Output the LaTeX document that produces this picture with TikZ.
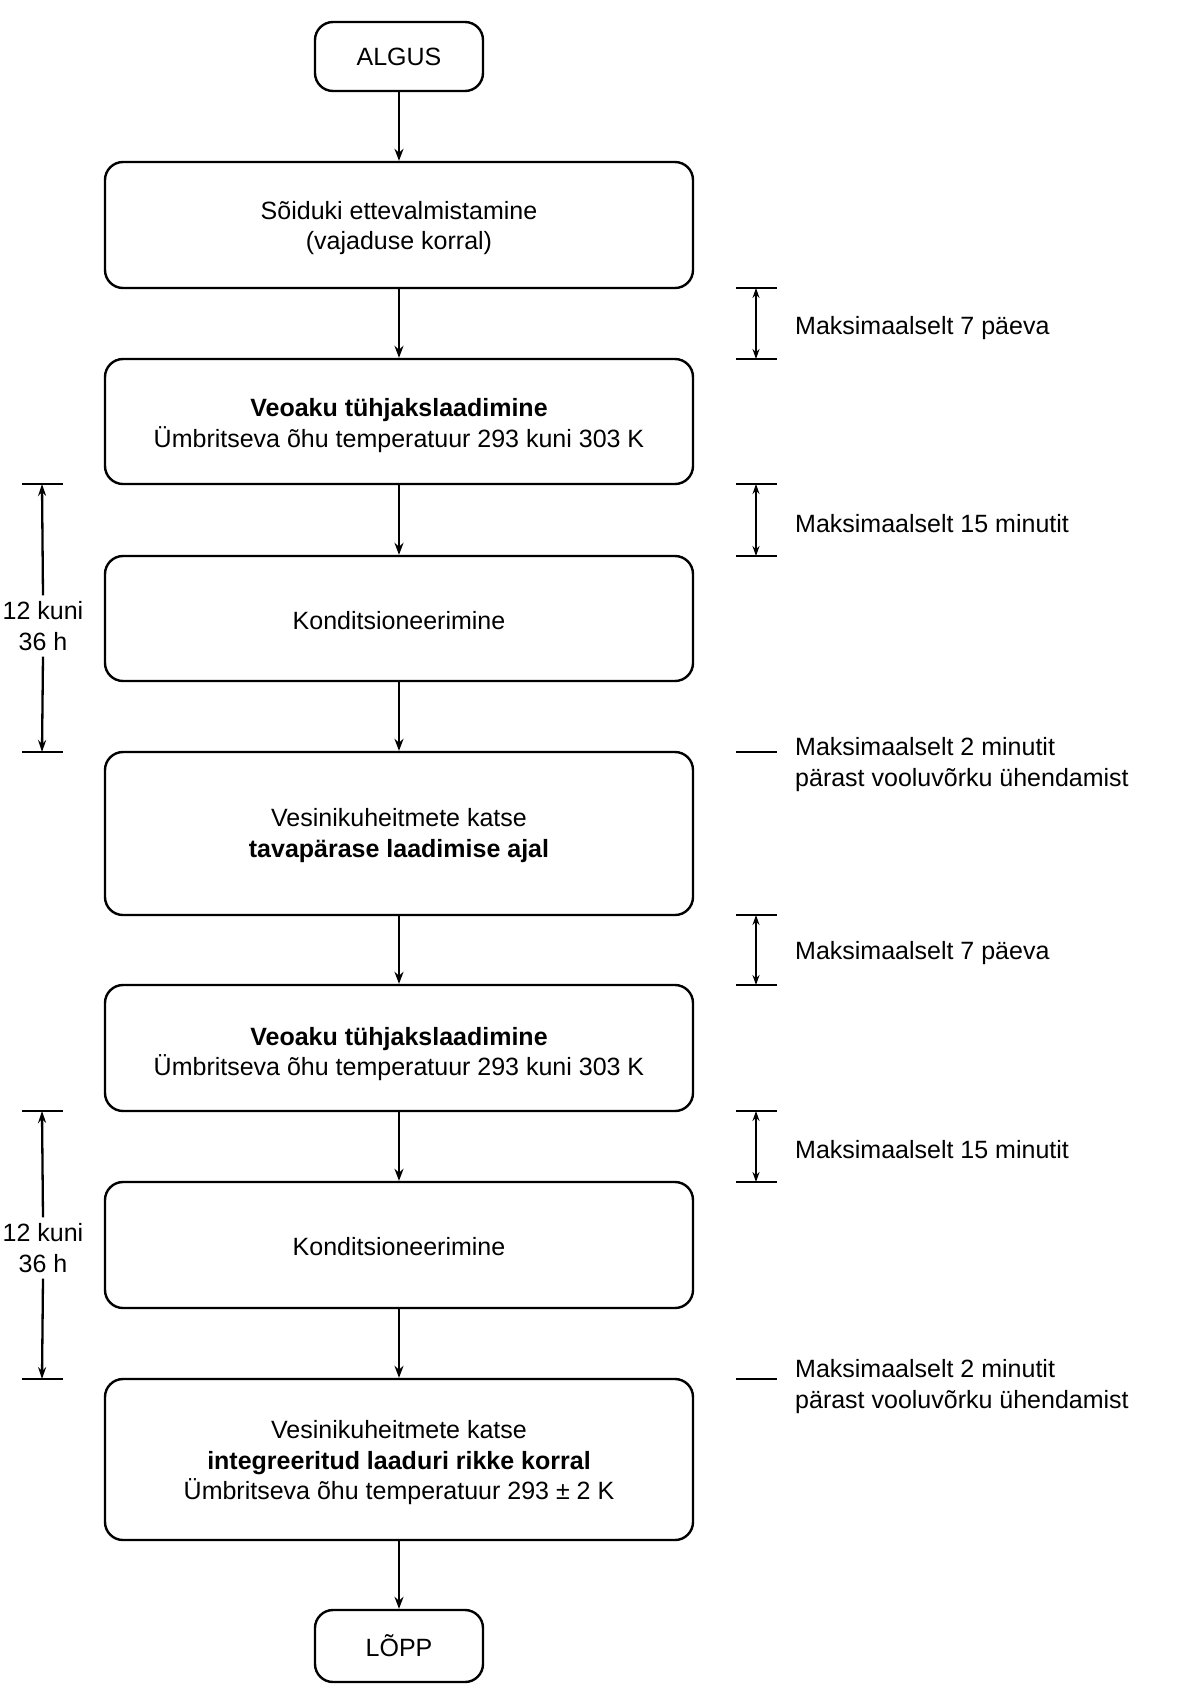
\documentclass[tikz,border=0pt]{standalone}
\usepackage{fontspec}
\setmainfont{Liberation Sans}
\usetikzlibrary{arrows.meta}
\newcommand\boxtext[2][-3.5pt]{\raisebox{#1}[\height][\depth]{\begin{tabular}{@{}c@{}}#2\end{tabular}}}
\begin{document}
\begin{tikzpicture}[x=1pt,y=-1pt,
  txt/.style={font=\fontsize{25}{30.5}\selectfont},
  box/.style={txt, draw, line width=2.4pt, rounded corners=18pt, minimum width=588pt, inner sep=0pt, align=center},
  endbox/.style={box, minimum width=168pt},
  lbl/.style={txt, inner sep=0pt, align=left, anchor=west},
  flow/.style={line width=2.2pt, -{Stealth[length=12pt,width=9pt]}},
  dimr/.style={line width=1.8pt, {Stealth[length=10pt,width=7pt]}-{Stealth[length=10pt,width=7pt]}},
  diml/.style={line width=2.3pt, -{Stealth[length=12pt,width=8pt]}},
  tick/.style={line width=2.4pt}]
\useasboundingbox (0,0) rectangle (1197,1701);

% main flow
\node[endbox, minimum height=69pt] (start) at (399,56.5) {ALGUS};
\node[box, minimum height=126pt] (b1) at (399,225) {\boxtext{Sõiduki ettevalmistamine\\(vajaduse korral)}};
\node[box, minimum height=125pt] (b2) at (399,421.5) {\boxtext[-4.5pt]{\textbf{Veoaku tühjakslaadimine}\\Ümbritseva õhu temperatuur 293 kuni 303 K}};
\node[box, minimum height=125pt] (b3) at (399,618.5) {\boxtext[-4.5pt]{Konditsioneerimine}};
\node[box, minimum height=163pt] (b4) at (399,833.5) {\boxtext[-2.5pt]{Vesinikuheitmete katse\\\textbf{tavapärase laadimise ajal}}};
\node[box, minimum height=126pt] (b5) at (399,1048) {\boxtext[-6.5pt]{\textbf{Veoaku tühjakslaadimine}\\Ümbritseva õhu temperatuur 293 kuni 303 K}};
\node[box, minimum height=126pt] (b6) at (399,1245) {\boxtext[-4.5pt]{Konditsioneerimine}};
\node[box, minimum height=161pt] (b7) at (399,1459.5) {\boxtext{Vesinikuheitmete katse\\\textbf{integreeritud laaduri rikke korral}\\Ümbritseva õhu temperatuur 293 ± 2 K}};
\node[endbox, minimum height=72pt] (end) at (399,1646) {LÕPP};

\draw[flow] (start) -- (b1);
\draw[flow] (b1) -- (b2);
\draw[flow] (b2) -- (b3);
\draw[flow] (b3) -- (b4);
\draw[flow] (b4) -- (b5);
\draw[flow] (b5) -- (b6);
\draw[flow] (b6) -- (b7);
\draw[flow] (b7) -- (end);

% right-hand timing marks
\coordinate (r1a) at (756,288);  \coordinate (r1b) at (756,359);
\coordinate (r2a) at (756,484);  \coordinate (r2b) at (756,556);
\coordinate (r3)  at (756,752);
\coordinate (r4a) at (756,915);  \coordinate (r4b) at (756,985);
\coordinate (r5a) at (756,1111); \coordinate (r5b) at (756,1182);
\coordinate (r6)  at (756,1379);

\foreach \c in {r1a,r1b,r2a,r2b,r4a,r4b,r5a,r5b}
  \draw[tick] ([xshift=-20pt]\c) -- ([xshift=21pt]\c);
\foreach \c in {r3,r6}
  \draw[tick, line width=1.6pt] ([xshift=-20pt]\c) -- ([xshift=21pt]\c);

\draw[dimr] (r1a) -- (r1b);
\draw[dimr] (r2a) -- (r2b);
\draw[dimr] (r4a) -- (r4b);
\draw[dimr] (r5a) -- (r5b);

\node[lbl] (t1) at (795,328.5) {Maksimaalselt 7 päeva};
\node[lbl] (t2) at (795,524) {Maksimaalselt 15 minutit};
\node[lbl] (t3) at (795,764.5) {Maksimaalselt 2 minutit\\pärast vooluvõrku ühendamist};
\node[lbl] (t4) at (795,953) {Maksimaalselt 7 päeva};
\node[lbl] (t5) at (795,1150) {Maksimaalselt 15 minutit};
\node[lbl] (t6) at (795,1386.5) {Maksimaalselt 2 minutit\\pärast vooluvõrku ühendamist};

% left-hand timing marks
\coordinate (l1a) at (42,484);  \coordinate (l1b) at (42,752);
\coordinate (l2a) at (42,1111); \coordinate (l2b) at (42,1379);
\foreach \c in {l1a,l1b,l2a,l2b}
  \draw[tick, line width=1.6pt] ([xshift=-20pt]\c) -- ([xshift=21pt]\c);

\node[txt, align=center, inner sep=6pt] (L1) at (43,626) {12 kuni\\36 h};
\node[txt, align=center, inner sep=6pt] (L2) at (43,1248) {12 kuni\\36 h};
\draw[diml] (L1.north) -- (l1a);
\draw[diml] (L1.south) -- (l1b);
\draw[diml] (L2.north) -- (l2a);
\draw[diml] (L2.south) -- (l2b);
\end{tikzpicture}
\end{document}
